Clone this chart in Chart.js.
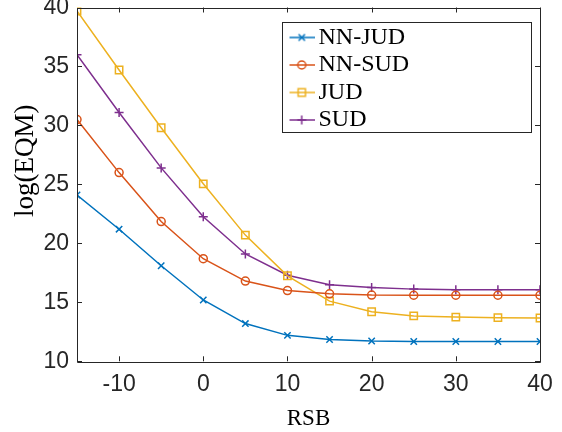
<!DOCTYPE html>
<html>
<head>
<meta charset="utf-8">
<script src="https://cdn.jsdelivr.net/npm/chart.js@4/dist/chart.umd.min.js"></script>
<style>
html,body{margin:0;padding:0;background:#fff;}
#wrap{width:562px;height:432px;}
</style>
</head>
<body>
<div id="wrap"><canvas id="c" width="562" height="432"></canvas></div>
<script>
const snr = [-15, -10, -5, 0, 5, 10, 15, 20, 25, 30, 35, 40];
const nnJud = [24.1, 21.2, 18.1, 15.2, 13.2, 12.2, 11.85, 11.72, 11.68, 11.68, 11.68, 11.68];
const nnSud = [30.5, 26.0, 21.85, 18.7, 16.8, 16.0, 15.72, 15.62, 15.6, 15.6, 15.6, 15.6];
const jud = [39.7, 34.7, 29.8, 25.05, 20.7, 17.25, 15.1, 14.2, 13.85, 13.75, 13.7, 13.67];
const sud = [36.0, 31.1, 26.4, 22.25, 19.1, 17.3, 16.5, 16.25, 16.12, 16.07, 16.07, 16.07];
const seriesNames = ['NN-JUD', 'NN-SUD', 'JUD', 'SUD'];
const xTickLabels = ['-10', '0', '10', '20', '30', '40'];
const yTickLabels = ['10', '15', '20', '25', '30', '35', '40'];
const xTitle = 'RSB';
const yTitle = 'log(EQM)';

const colors = ['#0072BD', '#D95319', '#EDB120', '#7E2F8E'];
const styles = ['crossRot', 'circle', 'rect', 'cross'];
const radii = [4.5, 4, 5.2, 4.5];
const allSeries = [nnJud, nnSud, jud, sud];

function legendImage(i) {
  const cv = document.createElement('canvas');
  cv.width = 37; cv.height = 14;
  const g = cv.getContext('2d');
  g.strokeStyle = colors[i];
  g.lineWidth = 1.5;
  g.beginPath(); g.moveTo(12, 7); g.lineTo(37, 7); g.stroke();
  const cx = 24.3, cy = 7, r = radii[i];
  g.beginPath();
  if (styles[i] === 'circle') { g.arc(cx, cy, r, 0, Math.PI * 2); }
  else if (styles[i] === 'rect') { const s = Math.SQRT1_2 * r; g.rect(cx - s, cy - s, 2 * s, 2 * s); }
  else if (styles[i] === 'cross') { g.moveTo(cx - r, cy); g.lineTo(cx + r, cy); g.moveTo(cx, cy - r); g.lineTo(cx, cy + r); }
  else { const s = r * Math.SQRT1_2; g.moveTo(cx - s, cy - s); g.lineTo(cx + s, cy + s); g.moveTo(cx - s, cy + s); g.lineTo(cx + s, cy - s); }
  g.stroke();
  return cv;
}
const legendImgs = seriesNames.map((_, i) => legendImage(i));

const datasets = seriesNames.map((name, i) => ({
  label: name,
  data: snr.map((x, k) => ({x: x, y: allSeries[i][k]})),
  borderColor: colors[i],
  backgroundColor: colors[i],
  borderWidth: 1.5,
  pointStyle: styles[i],
  pointRadius: radii[i],
  pointBorderWidth: 1.5,
  pointBorderColor: colors[i],
  pointBackgroundColor: 'rgba(0,0,0,0)',
  tension: 0,
  fill: false
}));

const axisColor = '#262626';
const LEG = { left: 282, top: 22, w: 249, h: 110 };

const boxPlugin = {
  id: 'boxPlugin',
  beforeDraw(chart) {
    const ctx = chart.ctx;
    ctx.save();
    ctx.fillStyle = '#fff';
    ctx.fillRect(0, 0, chart.width, chart.height);
    ctx.restore();
  },
  afterLayout(chart) {
    const lg = chart.legend;
    if (lg) {
      const w = lg.width, h = lg.height;
      lg.left = LEG.left; lg.top = LEG.top;
      lg.right = lg.left + w; lg.bottom = lg.top + h;
    }
  },
  afterDatasetsDraw(chart) {
    const {ctx, chartArea: a} = chart;
    const xs = chart.scales.x, ys = chart.scales.y;
    ctx.save();
    ctx.strokeStyle = axisColor;
    ctx.lineWidth = 1;
    ctx.beginPath();
    ctx.rect(Math.round(a.left) + 0.5, Math.round(a.top) + 0.5, Math.round(a.right - a.left), Math.round(a.bottom - a.top));
    ctx.stroke();
    ctx.beginPath();
    const tl = 5;
    xs.ticks.forEach(t => {
      const px = Math.round(xs.getPixelForValue(t.value)) + 0.5;
      ctx.moveTo(px, a.bottom); ctx.lineTo(px, a.bottom - tl);
      ctx.moveTo(px, a.top); ctx.lineTo(px, a.top + tl);
    });
    ys.ticks.forEach(t => {
      const py = Math.round(ys.getPixelForValue(t.value)) + 0.5;
      ctx.moveTo(a.left, py); ctx.lineTo(a.left + tl, py);
      ctx.moveTo(a.right, py); ctx.lineTo(a.right - tl, py);
    });
    ctx.stroke();
    ctx.fillStyle = '#fff';
    ctx.fillRect(LEG.left + 0.5, LEG.top + 0.5, LEG.w, LEG.h);
    ctx.strokeRect(LEG.left + 0.5, LEG.top + 0.5, LEG.w, LEG.h);
    ctx.restore();
    if (chart.legend) chart.legend.draw();
  }
};

new Chart(document.getElementById('c'), {
  type: 'line',
  data: { datasets: datasets },
  options: {
    responsive: false,
    animation: false,
    devicePixelRatio: 1,
    layout: { padding: { left: 0, top: 7.5, right: 22, bottom: 0 } },
    plugins: {
      legend: {
        position: 'chartArea',
        align: 'start',
        labels: {
          usePointStyle: true,
          pointStyleWidth: 21,
          padding: 3.5,
          color: '#000',
          font: { family: '"Liberation Serif", "Times New Roman", serif', size: 24 },
          generateLabels(chart) {
            return chart.data.datasets.map((ds, i) => ({
              text: ds.label,
              fillStyle: 'rgba(0,0,0,0)',
              strokeStyle: ds.borderColor,
              lineWidth: 0,
              pointStyle: legendImgs[i],
              hidden: false,
              datasetIndex: i,
              fontColor: '#000'
            }));
          }
        }
      },
      tooltip: { enabled: false }
    },
    scales: {
      x: {
        type: 'linear',
        min: -15, max: 40,
        grid: { display: false, drawTicks: false },
        border: { display: false },
        afterFit(s) { s.height = 70.7; s.paddingLeft = 0; s.paddingRight = 0; },
        afterBuildTicks(s) { s.ticks = xTickLabels.map(v => ({ value: Number(v) })); },
        ticks: {
          includeBounds: false,
          stepSize: 10,
          padding: 10,
          color: axisColor,
          font: { family: '"Liberation Sans", Arial, sans-serif', size: 23 },
          maxRotation: 0,
          callback: v => String(v)
        },
        title: {
          display: true, text: xTitle, color: '#000',
          font: { family: '"Liberation Serif", "Times New Roman", serif', size: 23 },
          padding: { top: 0, bottom: -1 }
        }
      },
      y: {
        type: 'linear',
        min: 10, max: 40,
        grid: { display: false, drawTicks: false },
        border: { display: false },
        afterFit(s) { s.width = 77; s.paddingTop = 0; s.paddingBottom = 0; },
        afterBuildTicks(s) { s.ticks = yTickLabels.map(v => ({ value: Number(v) })); },
        ticks: {
          stepSize: 5,
          padding: 8,
          color: axisColor,
          font: { family: '"Liberation Sans", Arial, sans-serif', size: 23 },
          callback: v => String(v)
        },
        title: {
          display: true, text: '\u00A0\u00A0\u00A0\u00A0\u00A0\u00A0\u00A0' + yTitle, color: '#000',
          font: { family: '"Liberation Serif", "Times New Roman", serif', size: 27 },
          padding: { top: 10, bottom: 0 }
        }
      }
    }
  },
  plugins: [boxPlugin]
});
</script>
</body>
</html>
